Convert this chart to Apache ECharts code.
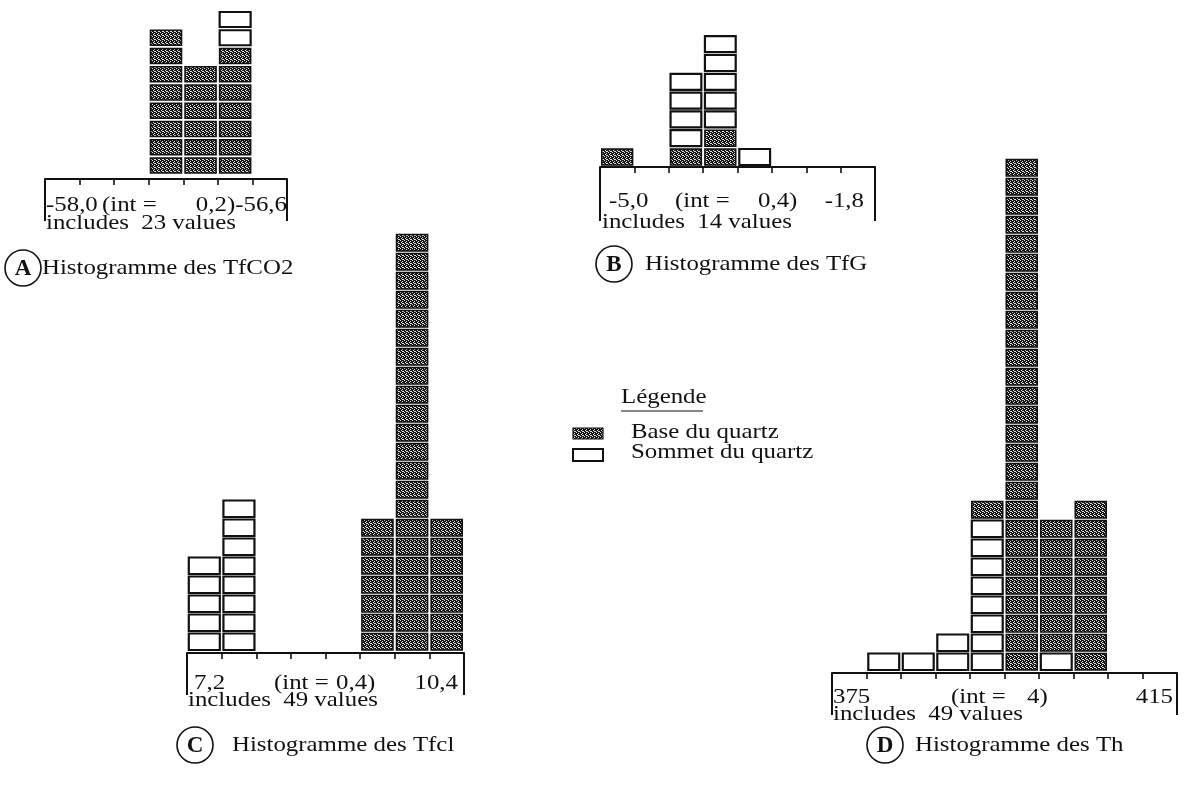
<!DOCTYPE html>
<html>
<head>
<meta charset="utf-8">
<script src="https://cdn.jsdelivr.net/npm/echarts@6/dist/echarts.min.js"></script>
<style>
html, body { margin: 0; background: #fff; }
#main { width: 1185px; height: 787px; }
</style>
</head>
<body>
<div id="main"></div>
<script>
// nombre de valeurs par classe (base = grisé, sommet = vide)
var baseA = [0, 0, 0, 8, 6, 7, 0];
var sommetA = [0, 0, 0, 0, 0, 2, 0];
var baseB = [1, 0, 1, 2, 0, 0, 0, 0];
var sommetB = [0, 0, 4, 5, 1, 0, 0, 0];
var baseC = [0, 0, 0, 0, 0, 7, 22, 7];
var sommetC = [5, 8, 0, 0, 0, 0, 0, 0];
var baseD = [0, 0, 0, 0, 1, 27, 7, 9, 0, 0];
var sommetD = [0, 1, 1, 2, 8, 0, 1, 0, 0, 0];

// textes des axes
var rangeA = ['-58,0', '-56,6'], intA = '0,2', countA = 23;
var rangeB = ['-5,0', '-1,8'], intB = '0,4', countB = 14;
var rangeC = ['7,2', '10,4'], intC = '0,4', countC = 49;
var rangeD = ['375', '415'], intD = '4', countD = 49;
var letters = ['A', 'B', 'C', 'D'];
var titles = ['Histogramme des TfCO2', 'Histogramme des TfG', 'Histogramme des Tfcl', 'Histogramme des Th'];
var legendTitle = 'Légende';
var legendNames = ['Base du quartz', 'Sommet du quartz'];

var FONT = '22px "Liberation Serif", "Times New Roman", serif';
var STRETCH = 1.13; // le texte scanné est un peu élargi
var INK = '#111';

// motif grisé des cases "base"
var cv = document.createElement('canvas');
cv.width = 4; cv.height = 4;
var cx = cv.getContext('2d');
cx.fillStyle = '#161616';
cx.fillRect(0, 0, 4, 4);
cx.fillStyle = '#e0e0e0';
[[0, 0], [2, 1], [1, 2], [3, 3], [2, 3]].forEach(function (p) {
    cx.fillRect(p[0], p[1], 1, 1);
});
var shade = {image: cv, repeat: 'repeat'};

var panels = [
    {base: baseA, sommet: sommetA, baseFirst: true, left: 45, width: 242, axisY: 179, pitch: 18.25, boxH: 15, gap: 6, levels: 9, drop: 42,
     range: rangeA, int: intA, count: countA, ty: 205, iy: 223, xs: [46, 102, 287], intRight: true, ix: 46,
     circle: [23, 268], tx: 42},
    {base: baseB, sommet: sommetB, baseFirst: true, left: 600, width: 275, axisY: 167, pitch: 18.8, boxH: 16, gap: 2, levels: 8, drop: 54,
     range: rangeB, int: intB, count: countB, ty: 201, iy: 222, xs: [609, 675, 758, 864], ix: 602,
     circle: [614, 264], tx: 645},
    {base: baseC, sommet: sommetC, baseFirst: true, left: 187, width: 277, axisY: 653, pitch: 19, boxH: 16.5, gap: 3, levels: 23, drop: 42,
     range: rangeC, int: intC, count: countC, ty: 683, iy: 700, xs: [194, 274, 336, 458], ix: 188,
     circle: [195, 745], tx: 232},
    {base: baseD, sommet: sommetD, baseFirst: false, left: 832, width: 345, axisY: 673, pitch: 19, boxH: 16.5, gap: 3, levels: 28, drop: 42,
     range: rangeD, int: intD, count: countD, ty: 697, iy: 714, xs: [833, 951, 1027, 1173], ix: 833,
     circle: [885, 745], tx: 915}
];

function stackData(first, second) {
    var a = [], b = [];
    for (var i = 0; i < first.length; i++) {
        for (var k = 0; k < first[i]; k++) a.push([i, k]);
        for (var j = 0; j < second[i]; j++) b.push([i, first[i] + j]);
    }
    return [a, b];
}

function boxRenderer(p, fill, lw) {
    return function (params, api) {
        var b = api.value(0), lv = api.value(1);
        var p0 = api.coord([b, lv]);
        var p1 = api.coord([b + 1, lv + 1]);
        var h = (p0[1] - p1[1]) * p.boxH / p.pitch;
        return {
            type: 'rect',
            shape: {x: p0[0] + 1.8, y: p0[1] - h, width: p1[0] - p0[0] - 3.6, height: h},
            style: {fill: fill, stroke: INK, lineWidth: lw}
        };
    };
}

// traits verticaux aux extrémités de l'axe
function frameRenderer(p) {
    return function (params, api) {
        var pt = api.coord([api.value(0), 0]);
        return {
            type: 'line',
            shape: {x1: pt[0], y1: pt[1] + p.gap, x2: pt[0], y2: pt[1] + p.gap + p.drop},
            style: {stroke: INK, lineWidth: 2}
        };
    };
}

function txt(x, y, s, align) {
    return {type: 'text', x: x, y: y, scaleX: STRETCH,
        style: {text: s, font: FONT, fill: INK, textAlign: align || 'left', align: align || 'left',
            textVerticalAlign: 'middle', verticalAlign: 'middle'}};
}

var grids = [], xAxes = [], yAxes = [], series = [], graphics = [];

panels.forEach(function (p, i) {
    var nb = p.base.length;
    var h = p.levels * p.pitch;
    grids.push({left: p.left, top: p.axisY - p.gap - h, width: p.width, height: h});
    xAxes.push({
        gridIndex: i, type: 'value', min: 0, max: nb, interval: 1, offset: p.gap,
        axisLine: {onZero: false, lineStyle: {color: INK, width: 2}},
        axisTick: {length: 6, lineStyle: {color: INK, width: 1.6}},
        axisLabel: {show: false}, splitLine: {show: false}
    });
    yAxes.push({gridIndex: i, type: 'value', min: 0, max: p.levels, interval: 1, show: false, splitLine: {show: false}});

    var st = p.baseFirst ? stackData(p.base, p.sommet) : stackData(p.sommet, p.base);
    var baseData = p.baseFirst ? st[0] : st[1];
    var somData = p.baseFirst ? st[1] : st[0];
    series.push({
        name: legendNames[0], type: 'custom', xAxisIndex: i, yAxisIndex: i,
        renderItem: boxRenderer(p, shade, 1.6), data: baseData, silent: true
    });
    series.push({
        name: legendNames[1], type: 'custom', xAxisIndex: i, yAxisIndex: i,
        renderItem: boxRenderer(p, '#fff', 2.2), data: somData, silent: true
    });
    series.push({
        name: 'cadre', type: 'custom', xAxisIndex: i, yAxisIndex: i, clip: false,
        renderItem: frameRenderer(p), data: [[0, 0], [nb, 0]], silent: true
    });

    // libellés sous l'axe
    graphics.push(txt(p.xs[0], p.ty, p.range[0]));
    graphics.push(txt(p.xs[1], p.ty, '(int ='));
    if (p.intRight) {
        graphics.push(txt(p.xs[2], p.ty, p.int + ')' + p.range[1], 'right'));
    } else {
        graphics.push(txt(p.xs[2], p.ty, p.int + ')'));
        graphics.push(txt(p.xs[3], p.ty, p.range[1], 'right'));
    }
    graphics.push(txt(p.ix, p.iy, 'includes  ' + p.count + ' values'));

    // titre avec lettre cerclée
    graphics.push({type: 'circle', shape: {cx: p.circle[0], cy: p.circle[1], r: 18},
        style: {fill: 'none', stroke: INK, lineWidth: 1.6}});
    graphics.push({type: 'text', x: p.circle[0], y: p.circle[1] + 1,
        style: {text: letters[i], font: 'bold 23px "Liberation Serif", serif', fill: INK,
            textAlign: 'center', align: 'center', textVerticalAlign: 'middle', verticalAlign: 'middle'}});
    graphics.push(txt(p.tx, p.circle[1], titles[i]));
});

// légende
graphics.push(txt(621, 397, legendTitle));
graphics.push({type: 'line', shape: {x1: 621, y1: 411, x2: 703, y2: 411}, style: {stroke: INK, lineWidth: 1.2}});
graphics.push({type: 'rect', shape: {x: 573, y: 428, width: 30, height: 11}, style: {fill: shade, stroke: INK, lineWidth: 1.2}});
graphics.push(txt(631, 432, legendNames[0]));
graphics.push({type: 'rect', shape: {x: 573, y: 449, width: 30, height: 12}, style: {fill: '#fff', stroke: INK, lineWidth: 2}});
graphics.push(txt(631, 452, legendNames[1]));

var myChart = echarts.init(document.getElementById('main'));
var option = {
    backgroundColor: '#fff',
    animation: false,
    grid: grids,
    xAxis: xAxes,
    yAxis: yAxes,
    series: series,
    graphic: graphics
};
myChart.setOption(option);
window.addEventListener('resize', function () {
    myChart.resize();
});
</script>
</body>
</html>
